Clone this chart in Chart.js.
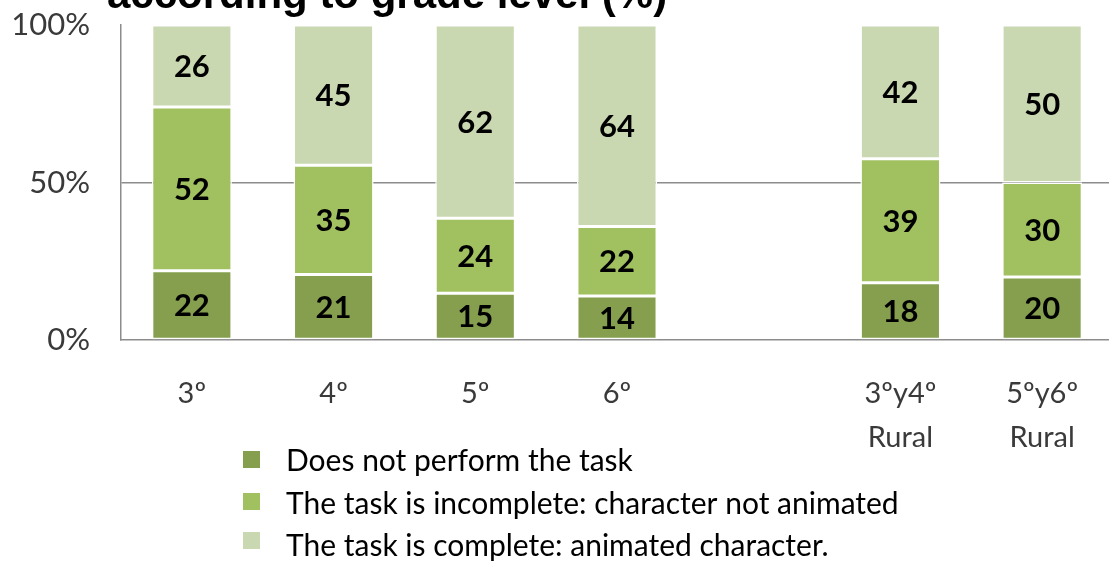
<!DOCTYPE html>
<html><head><meta charset="utf-8">
<script src="https://cdn.jsdelivr.net/npm/chart.js@4/dist/chart.umd.min.js"></script>
<style>html,body{margin:0;padding:0;background:#fff;overflow:hidden}#wrap{width:1114px;height:562px;position:relative}</style>
</head><body><div id="wrap"><canvas id="c"></canvas></div>
<script>
// ---- data ----
const categories = ['3º', '4º', '5º', '6º', '', ['3ºy4º', 'Rural'], ['5ºy6º', 'Rural']];
const seriesNames = ['Does not perform the task', 'The task is incomplete: character not animated', 'The task is complete: animated character.'];
const notPerform = [22, 21, 15, 14, null, 18, 20];
const incomplete = [52, 35, 24, 22, null, 39, 30];
const complete   = [26, 45, 62, 64, null, 42, 50];
const yTicks = [0, 50, 100];
const titleText = 'according to grade level (%)';

// ---- styles ----
const colors = ['#869F4E', '#A1C05F', '#CAD8B1'];
const gridColor = '#8C8C8C';
const FONT = 'Lato, "Open Sans", sans-serif';

const series = [notPerform, incomplete, complete];
const totals = categories.map((_, i) => series.reduce((s, a) => s + (a[i] || 0), 0));
const share = arr => arr.map((v, i) => v == null ? null : v / totals[i] * 100);

const datasets = series.map((arr, k) => ({
  label: seriesNames[k],
  data: share(arr),
  rawValues: arr,
  backgroundColor: colors[k],
  borderColor: '#FFFFFF',
  borderWidth: 1.5,
  borderSkipped: false,
  barPercentage: 0.565,
  categoryPercentage: 1.0
}));

const valueLabels = {
  id: 'valueLabels',
  afterDatasetsDraw(chart) {
    const ctx = chart.ctx;
    ctx.save();
    ctx.font = 'bold 31px ' + FONT;
    ctx.fillStyle = '#000';
    ctx.textAlign = 'center';
    ctx.textBaseline = 'middle';
    chart.data.datasets.forEach((ds, di) => {
      const meta = chart.getDatasetMeta(di);
      meta.data.forEach((el, i) => {
        const v = ds.rawValues[i];
        if (v == null) return;
        const p = el.getProps(['x', 'y', 'base'], true);
        ctx.fillText(String(v), p.x, (p.y + p.base) / 2 + 1);
      });
    });
    ctx.restore();
  }
};

const extras = {
  id: 'extras',
  afterDraw(chart) {
    const ctx = chart.ctx;
    ctx.save();
    // partially visible title
    ctx.font = 'bold 42px "Liberation Sans", Arial, sans-serif';
    ctx.fillStyle = '#000';
    ctx.textAlign = 'left';
    ctx.textBaseline = 'alphabetic';
    ctx.fillText(titleText, 107, 8);
    // legend
    const boxY = [459, 501, 540];
    const textY = [461, 504, 546];
    ctx.font = '30px ' + FONT;
    ctx.textBaseline = 'middle';
    chart.data.datasets.forEach((ds, i) => {
      ctx.fillStyle = ds.backgroundColor;
      ctx.fillRect(243, boxY[i] - 8, 17, 17);
      ctx.fillStyle = '#000';
      ctx.fillText(ds.label, 286, textY[i]);
    });
    ctx.restore();
  }
};

new Chart(document.getElementById('c'), {
  type: 'bar',
  data: { labels: categories, datasets },
  options: {
    responsive: true,
    maintainAspectRatio: false,
    animation: false,
    layout: { padding: { top: 25, right: 1, left: 0, bottom: 0 } },
    plugins: { legend: { display: false }, tooltip: { enabled: false }, title: { display: false } },
    scales: {
      x: {
        stacked: true,
        grid: { display: false, drawTicks: false },
        border: { display: true, color: gridColor, width: 1.5 },
        ticks: { color: '#3A3A3A', font: { family: FONT, size: 29, lineHeight: 1.5 }, padding: 32, maxRotation: 0, autoSkip: false },
        afterFit(s) { s.height = 222; s.paddingTop = 0; s.paddingBottom = 0; }
      },
      y: {
        stacked: true,
        min: 0, max: 100,
        afterBuildTicks(s) { s.ticks = yTicks.map(v => ({ value: v })); },
        grid: { color: ctx => ctx.tick && ctx.tick.value === 50 ? gridColor : 'rgba(0,0,0,0)', lineWidth: 1.5, drawTicks: false },
        border: { display: true, color: gridColor, width: 1.5 },
        ticks: { color: '#3A3A3A', font: { family: FONT, size: 31 }, padding: 31, callback: v => v + '%' },
        afterFit(s) { s.width = 121; s.paddingTop = 0; s.paddingBottom = 0; }
      }
    }
  },
  plugins: [valueLabels, extras]
});
</script>
</body></html>
